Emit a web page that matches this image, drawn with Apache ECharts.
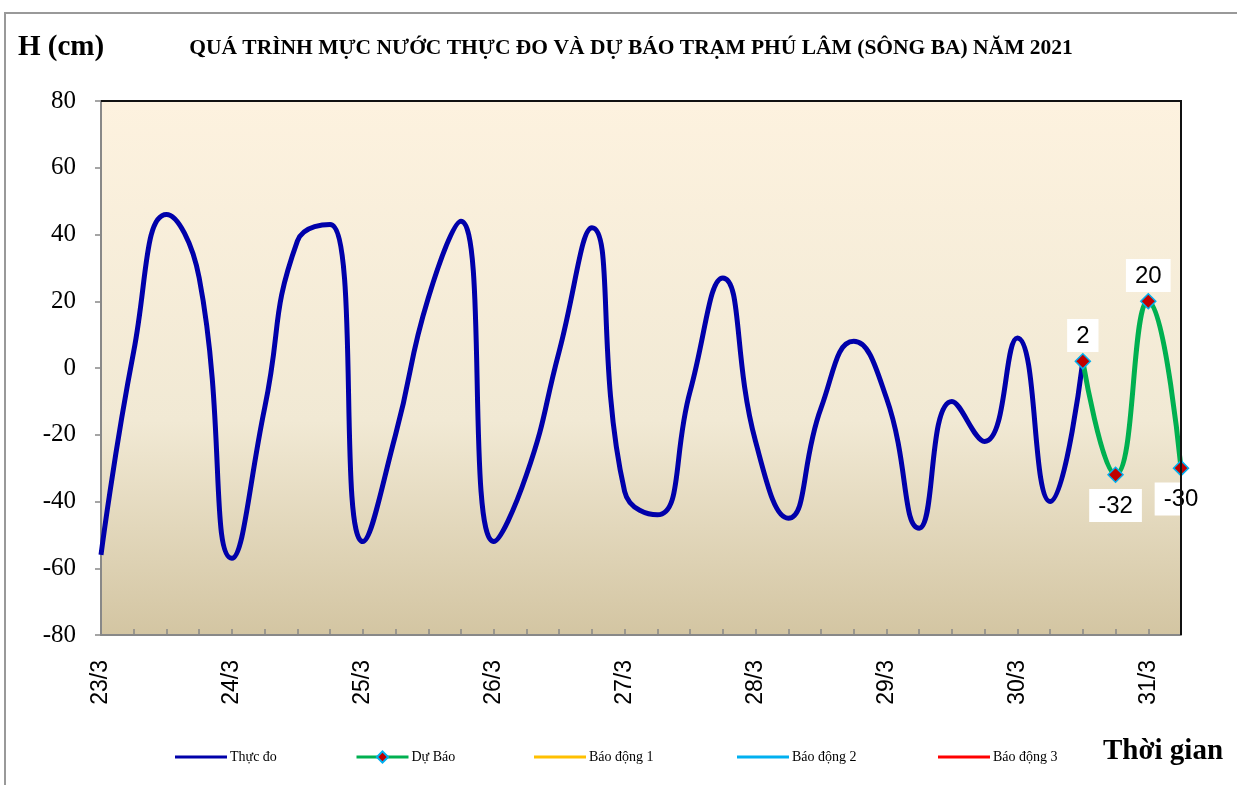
<!DOCTYPE html>
<html>
<head>
<meta charset="utf-8">
<script src="https://cdn.jsdelivr.net/npm/echarts@6/dist/echarts.min.js"></script>
<style>
  html, body { margin: 0; padding: 0; background: #fff; }
  #chart { width: 1237px; height: 785px; }
</style>
</head>
<body>
<div id="chart"></div>
<script>
// moc thoi gian 6 gio / 1 diem
const timeLabels = [
  '23/3 00', '23/3 06', '23/3 12', '23/3 18',
  '24/3 00', '24/3 06', '24/3 12', '24/3 18',
  '25/3 00', '25/3 06', '25/3 12', '25/3 18',
  '26/3 00', '26/3 06', '26/3 12', '26/3 18',
  '27/3 00', '27/3 06', '27/3 12', '27/3 18',
  '28/3 00', '28/3 06', '28/3 12', '28/3 18',
  '29/3 00', '29/3 06', '29/3 12', '29/3 18',
  '30/3 00', '30/3 06', '30/3 12', '30/3 18',
  '31/3 00', '31/3 06'
];
// muc nuoc thuc do (cm)
const thucDo = [
  -56, 5, 46, 27,
  -57, -12, 38, 43,
  -52, -20, 21, 44,
  -52, -32, 5, 42,
  -37, -44, -7, 27,
  -22, -45, -12, 8,
  -9, -48, -10, -22,
  9, -40, 2
];
// du bao (bat dau tu diem thuc do cuoi)
const duBao = [2, -32, 20, -30];
const yTicks = [-80, -60, -40, -20, 0, 20, 40, 60, 80];

const serif = '"Liberation Serif", "Times New Roman", serif';
const sans = '"Liberation Sans", Arial, sans-serif';

// icon duong ke mong, giu khung cao 14 de chu canh giua
const lineIcon = 'path://M0,0L52,0L52,0.01L0,0.01Z M0,5.5L52,5.5L52,8.5L0,8.5Z M0,13.99L52,13.99L52,14L0,14Z';

const startDb = thucDo.length - 1;
const duBaoData = timeLabels.map(function (t, i) {
  if (i < startDb) return null;
  const v = duBao[i - startDb];
  return {
    value: v,
    label: { position: v >= 0 ? 'top' : 'bottom', distance: v >= 0 ? 1 : 6 }
  };
});

const chart = echarts.init(document.getElementById('chart'));

function legendItem(name, left, icon) {
  return {
    data: [icon ? { name: name, icon: icon } : name],
    left: left,
    top: 745,
    itemWidth: 52,
    itemHeight: 14,
    itemGap: 0,
    textStyle: { fontFamily: serif, fontSize: 14, color: '#000', padding: [0, 0, 0, -2] },
    lineStyle: { width: 3 }
  };
}

chart.setOption({
  animation: false,
  title: {
    text: 'QUÁ TRÌNH MỰC NƯỚC THỰC ĐO VÀ DỰ BÁO TRẠM PHÚ LÂM (SÔNG BA) NĂM 2021',
    left: 626,
    textAlign: 'center',
    top: 32,
    textStyle: { fontFamily: serif, fontWeight: 'bold', fontSize: 21.5, color: '#000' }
  },
  legend: [
    legendItem('Thực đo', 170, lineIcon),
    legendItem('Dự Báo', 350),
    legendItem('Báo động 1', 529, lineIcon),
    legendItem('Báo động 2', 732, lineIcon),
    legendItem('Báo động 3', 933, lineIcon)
  ],
  grid: {
    left: 101, right: 56, top: 101, bottom: 150,
    show: true,
    borderWidth: 0,
    backgroundColor: new echarts.graphic.LinearGradient(0, 0, 0, 1, [
      { offset: 0, color: '#FDF2DF' },
      { offset: 0.6, color: '#F1E9D4' },
      { offset: 1, color: '#D3C5A2' }
    ])
  },
  xAxis: {
    type: 'category',
    data: timeLabels,
    boundaryGap: false,
    axisLine: { onZero: false, lineStyle: { color: '#888', width: 2 } },
    axisTick: { inside: true, length: 6, interval: 0, lineStyle: { color: '#888', width: 1.5 } },
    axisLabel: {
      interval: 3,
      rotate: 90,
      margin: 25,
      fontFamily: sans,
      fontSize: 23,
      color: '#000',
      formatter: function (v) { return v.split(' ')[0]; }
    },
    splitLine: { show: false }
  },
  yAxis: {
    type: 'value',
    min: yTicks[0],
    max: yTicks[yTicks.length - 1],
    interval: 20,
    axisLine: { show: true, lineStyle: { color: '#888', width: 2 } },
    axisTick: { show: true, length: 6, lineStyle: { color: '#888', width: 1.5 } },
    axisLabel: { margin: 25, fontFamily: serif, fontSize: 25, color: '#000' },
    splitLine: { show: false }
  },
  graphic: [
    {
      type: 'rect',
      shape: { x: 5, y: 13, width: 1300, height: 900 },
      style: { fill: 'none', stroke: '#999', lineWidth: 2 },
      silent: true
    },
    {
      type: 'polyline',
      shape: { points: [[101, 101], [1181, 101], [1181, 635]] },
      style: { fill: 'none', stroke: '#111', lineWidth: 2 },
      z: 10,
      silent: true
    },
    {
      type: 'text',
      left: 18,
      top: 33,
      style: { text: 'H (cm)', font: 'bold 29px ' + serif, fill: '#000' }
    },
    {
      type: 'text',
      left: 1103,
      top: 737,
      style: { text: 'Thời gian', font: 'bold 29px ' + serif, fill: '#000' }
    }
  ],
  series: [
    {
      name: 'Thực đo',
      type: 'line',
      data: thucDo,
      smooth: 0.5,
      symbol: 'none',
      color: '#0000AA',
      lineStyle: { width: 5, color: '#0000AA' },
      z: 3
    },
    {
      name: 'Dự Báo',
      type: 'line',
      data: duBaoData,
      smooth: 0.5,
      symbol: 'diamond',
      symbolSize: 15,
      color: '#00B050',
      itemStyle: { color: '#C00000', borderColor: '#00B0F0', borderWidth: 1.5 },
      lineStyle: { width: 5, color: '#00B050' },
      label: {
        show: true,
        fontFamily: sans,
        fontSize: 24,
        color: '#000',
        backgroundColor: '#fff',
        padding: [5, 9, 4, 9]
      },
      z: 4
    },
    { name: 'Báo động 1', type: 'line', data: [], symbol: 'none', color: '#FFC000', lineStyle: { color: '#FFC000' } },
    { name: 'Báo động 2', type: 'line', data: [], symbol: 'none', color: '#00B0F0', lineStyle: { color: '#00B0F0' } },
    { name: 'Báo động 3', type: 'line', data: [], symbol: 'none', color: '#FF0000', lineStyle: { color: '#FF0000' } }
  ]
});
</script>
</body>
</html>
